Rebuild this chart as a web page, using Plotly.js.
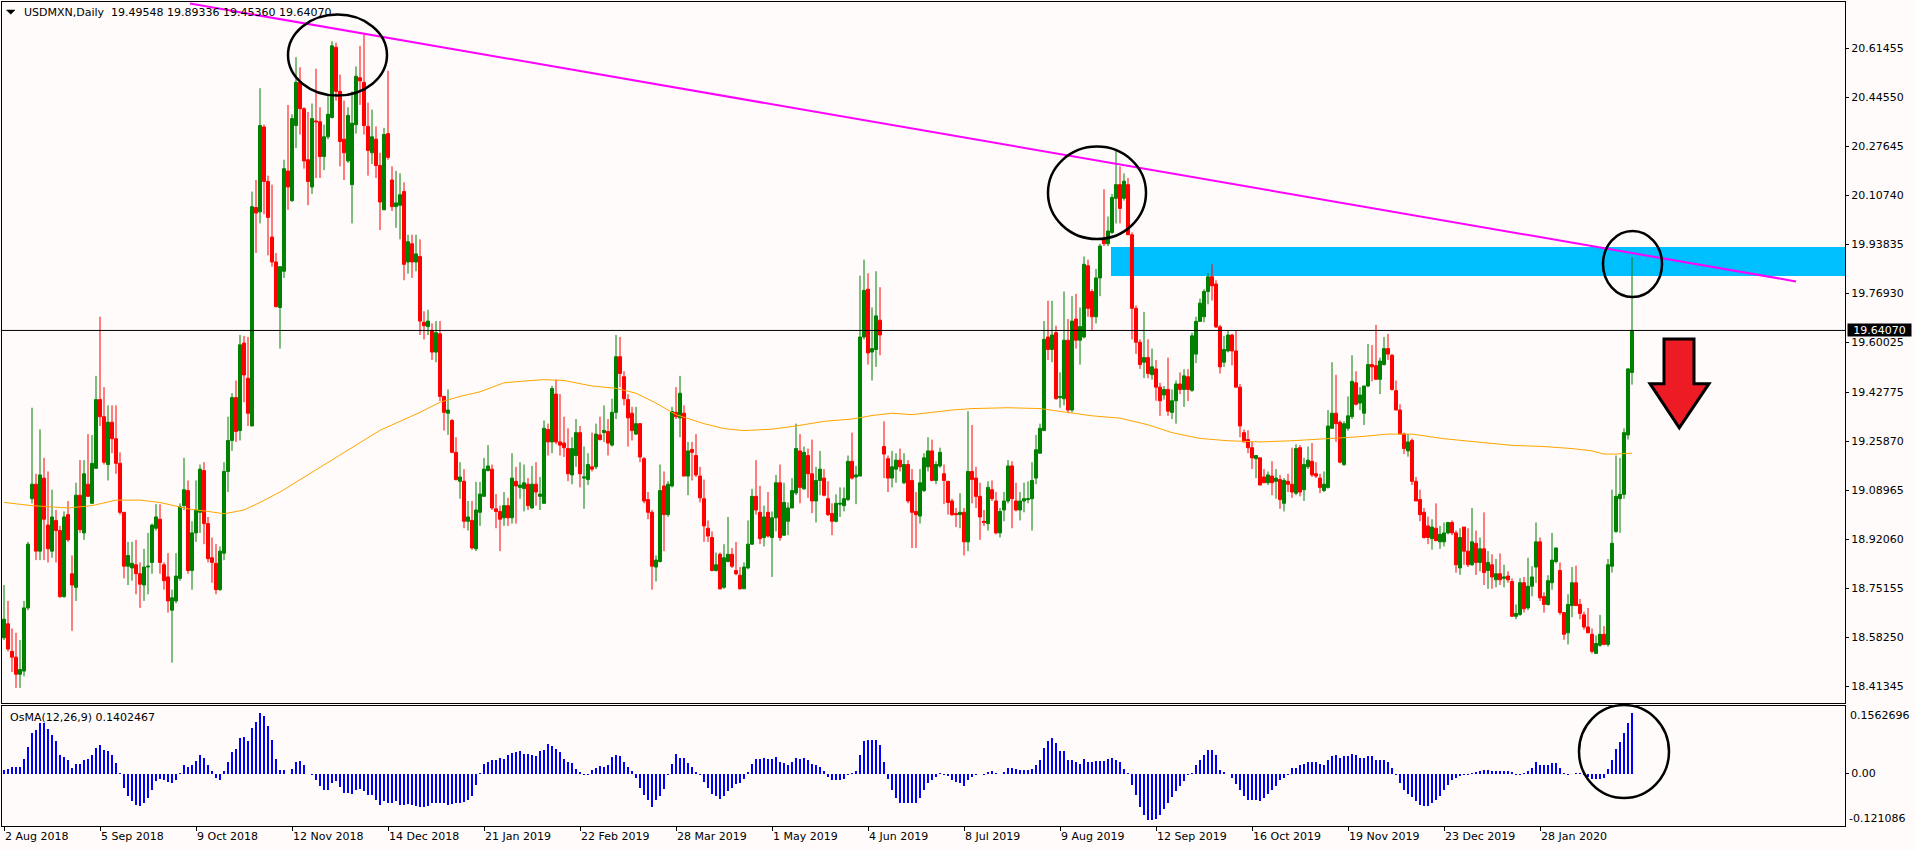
<!DOCTYPE html>
<html>
<head>
<meta charset="utf-8">
<script src="https://cdn.plot.ly/plotly-3.0.1.min.js"></script>
<style>
html,body{margin:0;padding:0;background:#FFFBFA;}
#chart{width:1916px;height:850px;}
</style>
</head>
<body>
<div id="chart"></div>
<script>
// ---------- DATA ----------
const symbol = "USDMXN,Daily";
const lastBar = {open: 19.49548, high: 19.89336, low: 19.45360, close: 19.64070};
const osmaLabel = "OsMA(12,26,9) 0.1402467";

const dateLabels = ["2 Aug 2018","5 Sep 2018","9 Oct 2018","12 Nov 2018","14 Dec 2018","21 Jan 2019",
  "22 Feb 2019","28 Mar 2019","1 May 2019","4 Jun 2019","8 Jul 2019","9 Aug 2019","12 Sep 2019",
  "16 Oct 2019","19 Nov 2019","23 Dec 2019","28 Jan 2020"];
const barsPerDateLabel = 24;

const priceTicks = [20.61455,20.44550,20.27645,20.10740,19.93835,19.76930,19.60025,19.42775,19.25870,19.08965,18.92060,18.75155,18.58250,18.41345];
const osmaMax = 0.1562696, osmaMin = -0.121086;

const openP = [
18.580,18.628,18.533,18.513,18.454,18.465,18.683,19.060,19.110,18.879,
19.131,18.969,18.879,18.985,18.950,18.722,19.005,18.801,18.754,19.072,
18.942,19.110,19.044,19.165,19.402,19.343,19.178,19.324,19.267,19.182,
19.013,18.827,18.821,18.832,18.801,18.762,18.824,18.840,18.958,18.989,
18.832,18.790,18.675,18.707,18.785,19.036,19.088,18.812,18.942,19.013,
19.157,18.974,18.856,18.837,18.746,18.872,19.154,19.261,19.409,19.295,
19.597,19.476,19.311,20.065,20.050,20.343,20.155,19.963,19.877,19.720,
19.845,20.191,20.089,20.348,20.497,20.406,20.230,20.136,20.364,20.361,
20.241,20.309,20.376,20.618,20.466,20.301,20.226,20.144,20.351,20.513,
20.497,20.345,20.254,20.301,20.210,20.057,20.320,20.160,20.068,20.073,
20.120,19.877,19.940,19.877,19.896,19.669,19.654,19.641,19.566,19.629,
19.413,19.355,19.330,19.220,19.120,19.120,18.982,18.985,18.887,19.013,
19.068,19.157,19.162,19.025,19.016,18.994,19.036,18.994,19.120,19.099,
19.095,19.110,19.028,19.110,19.068,19.044,19.299,19.256,19.421,19.256,
19.252,19.233,19.142,19.209,19.288,19.131,19.126,19.170,19.170,19.280,
19.288,19.292,19.245,19.358,19.550,19.481,19.402,19.355,19.283,19.319,
19.198,19.057,19.013,18.824,18.843,19.104,19.005,19.104,19.358,19.339,
19.355,19.138,19.230,19.209,19.138,19.060,18.958,18.926,18.812,18.868,
18.754,18.843,18.868,18.812,18.796,18.749,18.821,18.903,19.068,19.013,
18.926,19.013,18.926,18.994,19.115,18.934,18.982,19.028,19.080,19.225,
19.094,19.209,19.146,19.052,19.123,19.131,19.060,19.009,18.982,19.041,
19.036,19.057,19.189,19.135,19.138,19.618,19.783,19.566,19.575,19.676,
19.240,19.198,19.131,19.162,19.193,19.115,19.178,19.123,19.016,19.000,
19.088,19.170,19.225,19.123,19.173,19.146,19.120,
19.052,19.009,19.005,19.013,18.911,19.154,19.131,19.068,18.982,18.974,
19.091,19.052,18.942,19.021,19.052,19.173,19.052,19.021,19.052,19.057,
19.060,19.131,19.217,19.295,19.618,19.575,19.633,19.409,19.405,19.607,
19.366,19.680,19.607,19.618,19.864,19.775,19.688,19.822,19.959,19.940,
19.979,20.097,20.144,20.097,20.144,19.971,19.717,19.600,
19.531,19.547,19.488,19.508,19.445,19.418,19.437,19.358,19.398,19.456,
19.437,19.481,19.434,19.559,19.672,19.688,19.775,19.826,19.801,19.653,
19.531,19.570,19.625,19.570,19.445,19.288,19.264,19.236,19.198,19.201,
19.135,19.115,19.138,19.120,19.126,19.044,19.120,19.110,19.079,19.236,
19.091,19.170,19.189,19.146,19.131,19.088,19.099,19.303,19.355,19.324,
19.178,19.303,19.343,19.460,19.390,19.355,19.449,19.523,19.519,19.472,
19.523,19.578,19.555,19.433,19.366,19.283,19.225,19.261,
19.120,19.057,19.013,18.966,18.922,18.958,18.911,18.911,18.942,18.978,
18.942,18.821,18.962,18.879,18.832,18.906,18.840,18.887,18.812,18.832,
18.780,18.801,18.785,18.793,18.774,18.654,18.660,18.770,18.683,18.758,
18.824,18.911,18.722,18.695,18.770,18.843,18.812,18.667,18.597,18.691,
18.770,18.695,18.659,18.617,18.592,18.526,18.554,18.592,18.557,18.827,
18.947,19.060,19.075,19.280,19.49548];

const highP = [
18.762,18.707,18.612,18.597,18.572,18.707,18.911,19.374,19.146,19.299,
19.201,19.154,19.091,19.021,18.966,19.016,19.052,18.864,19.115,19.193,
19.193,19.283,19.280,19.484,19.688,19.445,19.382,19.382,19.382,19.220,
19.013,18.911,18.911,18.918,18.840,18.887,18.942,18.974,19.041,19.041,
18.840,18.872,18.746,18.872,19.044,19.201,19.123,18.982,19.123,19.178,
19.186,18.997,18.926,18.903,18.895,19.186,19.343,19.424,19.468,19.625,
19.622,19.618,20.120,20.160,20.477,20.351,20.175,20.144,19.908,19.861,
20.230,20.419,20.387,20.584,20.549,20.411,20.395,20.424,20.544,20.411,
20.351,20.450,20.639,20.634,20.524,20.434,20.411,20.466,20.552,20.623,
20.662,20.427,20.403,20.345,20.254,20.340,20.537,20.207,20.191,20.183,
20.152,19.971,19.971,19.971,19.955,19.707,19.712,19.665,19.673,19.673,
19.413,19.437,19.335,19.272,19.186,19.162,19.052,19.052,19.118,19.118,
19.201,19.245,19.178,19.076,19.036,19.083,19.063,19.217,19.170,19.186,
19.178,19.131,19.173,19.186,19.135,19.330,19.319,19.449,19.471,19.421,
19.343,19.303,19.272,19.335,19.311,19.240,19.217,19.288,19.319,19.343,
19.382,19.335,19.405,19.625,19.618,19.500,19.421,19.377,19.377,19.319,
19.204,19.083,19.021,18.864,19.178,19.154,19.120,19.377,19.445,19.484,
19.382,19.256,19.256,19.283,19.170,19.126,18.985,18.947,18.874,18.874,
18.903,18.997,18.890,18.911,18.824,18.840,18.985,19.094,19.193,19.104,
19.036,19.083,19.016,19.142,19.178,19.115,19.047,19.131,19.319,19.283,
19.240,19.233,19.264,19.170,19.225,19.162,19.120,19.044,19.075,19.099,
19.099,19.209,19.288,19.173,19.830,19.885,19.838,19.720,19.845,19.790,
19.327,19.209,19.225,19.217,19.233,19.217,19.193,19.162,19.083,19.162,
19.217,19.272,19.264,19.189,19.236,19.178,19.120,
19.060,19.028,19.079,19.028,19.362,19.314,19.170,19.115,19.021,19.120,
19.123,19.083,19.028,19.083,19.193,19.189,19.115,19.083,19.115,19.120,
19.186,19.280,19.319,19.673,19.743,19.743,19.657,19.496,19.775,19.680,
19.759,19.767,19.720,19.896,19.885,19.783,19.853,19.940,20.128,20.034,
20.112,20.262,20.207,20.183,20.167,19.979,19.727,19.610,
19.704,19.610,19.578,19.539,19.460,19.449,19.547,19.437,19.468,19.496,
19.507,19.507,19.633,19.688,19.751,19.783,19.838,19.869,19.814,19.660,
19.622,19.641,19.629,19.641,19.456,19.299,19.296,19.256,19.209,19.201,
19.162,19.154,19.189,19.162,19.142,19.131,19.146,19.236,19.248,19.245,
19.201,19.240,19.252,19.186,19.146,19.154,19.366,19.531,19.488,19.330,
19.327,19.413,19.555,19.500,19.445,19.449,19.594,19.590,19.660,19.547,
19.618,19.629,19.559,19.468,19.386,19.288,19.283,19.268,
19.135,19.091,19.028,18.998,18.989,19.044,18.966,18.978,18.978,18.985,
18.950,18.958,18.962,18.958,19.028,18.950,18.926,19.013,18.879,18.868,
18.852,18.871,18.832,18.809,18.785,18.695,18.785,18.790,18.856,18.827,
18.978,18.926,18.737,18.796,18.942,18.890,18.840,18.667,18.730,18.824,
18.829,18.714,18.670,18.683,18.612,18.588,18.659,18.620,18.852,19.091,
19.209,19.201,19.303,19.511,19.89336];

const lowP = [
18.572,18.533,18.462,18.407,18.407,18.447,18.675,19.044,18.848,18.848,
18.848,18.840,18.856,18.840,18.718,18.718,18.911,18.604,18.707,18.942,
18.918,19.068,19.044,19.162,19.311,19.178,19.123,19.217,19.146,19.005,
18.785,18.762,18.777,18.730,18.683,18.707,18.730,18.801,18.950,18.801,
18.746,18.667,18.494,18.699,18.777,19.021,18.801,18.746,18.911,18.942,
18.903,18.840,18.770,18.730,18.742,18.848,19.083,19.225,19.256,19.261,
19.393,19.311,19.311,19.908,20.010,20.042,19.900,19.861,19.720,19.578,
19.822,20.057,20.084,20.270,20.317,20.199,20.073,20.112,20.167,20.167,
20.194,20.301,20.372,20.434,20.207,20.160,20.219,20.010,20.320,20.419,
20.317,20.175,20.215,20.167,19.987,20.057,20.230,20.053,19.995,19.955,
19.814,19.837,19.822,19.845,19.625,19.610,19.625,19.539,19.531,19.397,
19.295,19.280,19.217,19.123,19.060,18.958,18.950,18.884,18.879,18.966,
19.068,19.154,19.021,18.958,18.879,18.966,18.966,18.974,18.974,19.060,
19.016,19.021,19.025,19.036,19.021,19.044,19.209,19.217,19.248,19.209,
19.204,19.120,19.110,19.170,19.099,19.025,19.107,19.154,19.162,19.261,
19.256,19.209,19.240,19.335,19.445,19.382,19.240,19.261,19.280,19.186,
19.044,18.989,18.746,18.774,18.840,18.879,18.997,19.099,19.335,19.272,
19.138,19.072,19.123,19.135,19.047,18.911,18.911,18.809,18.809,18.746,
18.749,18.840,18.821,18.796,18.746,18.749,18.816,18.900,19.005,18.903,
18.895,18.926,18.790,18.947,18.915,18.931,18.934,19.028,19.072,19.044,
19.091,19.063,19.010,18.978,19.072,19.068,19.000,18.934,18.978,18.997,
19.016,19.052,19.126,19.041,19.138,19.610,19.523,19.468,19.515,19.555,
19.131,19.083,19.099,19.115,19.154,19.110,19.044,18.890,18.890,18.974,
19.083,19.154,19.120,19.110,19.167,19.041,19.005,
19.000,18.962,18.958,18.864,18.879,19.044,19.028,18.918,18.966,18.950,
19.052,18.937,18.926,18.982,19.044,18.958,19.016,18.985,19.013,19.044,
18.950,19.110,19.217,19.295,19.539,19.531,19.402,19.374,19.382,19.355,
19.358,19.578,19.523,19.613,19.688,19.641,19.665,19.759,19.932,19.932,
19.974,20.010,20.010,20.089,19.971,19.610,19.560,19.508,
19.476,19.476,19.471,19.398,19.346,19.402,19.346,19.335,19.319,19.421,
19.377,19.397,19.429,19.528,19.672,19.669,19.731,19.744,19.649,19.492,
19.515,19.565,19.520,19.445,19.272,19.256,19.217,19.162,19.131,19.107,
19.115,19.107,19.072,19.060,19.025,19.016,19.083,19.063,19.072,19.068,
19.052,19.162,19.135,19.131,19.079,19.083,19.095,19.303,19.256,19.182,
19.173,19.295,19.335,19.382,19.366,19.314,19.445,19.465,19.472,19.421,
19.519,19.539,19.433,19.366,19.283,19.214,19.205,19.107,
19.052,18.982,18.922,18.903,18.884,18.915,18.887,18.895,18.937,18.934,
18.805,18.797,18.832,18.824,18.828,18.797,18.809,18.762,18.749,18.749,
18.754,18.762,18.754,18.770,18.654,18.644,18.656,18.667,18.675,18.723,
18.770,18.707,18.667,18.691,18.746,18.837,18.659,18.573,18.557,18.651,
18.691,18.644,18.608,18.597,18.526,18.525,18.549,18.554,18.549,18.805,
18.942,18.942,19.060,19.264,19.45360];

const closeP = [
18.644,18.541,18.513,18.454,18.470,18.683,18.903,19.110,18.879,19.142,
18.989,18.887,18.997,18.950,18.722,18.997,18.918,18.762,19.072,18.953,
19.146,19.068,19.182,19.402,19.343,19.186,19.324,19.267,19.182,19.013,
18.827,18.864,18.837,18.801,18.765,18.824,18.827,18.969,18.997,18.840,
18.777,18.707,18.718,18.793,19.032,19.091,18.812,18.942,19.021,19.162,
18.974,18.853,18.840,18.746,18.879,19.154,19.261,19.409,19.292,19.591,
19.487,19.355,20.068,20.046,20.348,20.155,20.031,19.877,19.723,19.861,
20.199,20.136,20.372,20.497,20.406,20.226,20.155,20.372,20.361,20.241,
20.309,20.387,20.623,20.466,20.293,20.254,20.383,20.356,20.518,20.502,
20.348,20.262,20.309,20.210,20.084,20.317,20.238,20.068,20.081,20.109,
19.869,19.947,19.877,19.905,19.673,19.657,19.673,19.566,19.633,19.413,
19.358,19.366,19.220,19.126,19.135,18.982,18.997,18.890,19.021,19.076,
19.162,19.173,19.028,19.016,18.989,19.036,18.994,19.131,19.104,19.107,
19.115,19.036,19.110,19.083,19.076,19.303,19.256,19.440,19.256,19.245,
19.236,19.146,19.233,19.288,19.146,19.135,19.178,19.162,19.283,19.264,
19.296,19.252,19.358,19.550,19.492,19.405,19.339,19.295,19.319,19.204,
19.052,19.013,18.827,18.848,19.088,19.005,19.110,19.361,19.343,19.424,
19.138,19.225,19.220,19.142,19.063,18.966,18.931,18.812,18.832,18.749,
18.856,18.868,18.827,18.801,18.749,18.824,18.903,19.068,19.021,18.922,
18.997,18.931,18.994,19.115,18.926,19.047,19.028,19.088,19.233,19.099,
19.220,19.146,19.052,19.123,19.162,19.072,19.005,18.982,19.044,19.044,
19.060,19.189,19.131,19.142,19.618,19.779,19.563,19.578,19.691,19.625,
19.214,19.131,19.170,19.193,19.170,19.178,19.052,19.013,19.005,19.115,
19.201,19.225,19.123,19.178,19.220,19.123,19.047,
19.005,19.005,19.013,18.911,19.154,19.126,19.068,18.997,18.978,19.099,
19.060,18.942,19.016,19.052,19.173,19.060,19.021,19.052,19.060,19.060,
19.123,19.229,19.303,19.610,19.575,19.625,19.405,19.413,19.607,19.366,
19.673,19.607,19.654,19.869,19.717,19.688,19.822,19.932,19.940,19.984,
20.100,20.144,20.062,20.156,19.971,19.717,19.600,19.523,
19.547,19.492,19.515,19.445,19.398,19.437,19.362,19.398,19.456,19.437,
19.484,19.437,19.622,19.672,19.735,19.775,19.826,19.795,19.653,19.515,
19.575,19.625,19.570,19.445,19.311,19.256,19.236,19.201,19.209,19.107,
19.115,19.142,19.115,19.131,19.057,19.123,19.110,19.083,19.233,19.083,
19.178,19.193,19.142,19.138,19.099,19.110,19.311,19.355,19.319,19.186,
19.319,19.346,19.465,19.386,19.418,19.449,19.523,19.515,19.472,19.535,
19.578,19.559,19.437,19.366,19.283,19.233,19.256,19.120,
19.052,19.005,18.926,18.926,18.962,18.915,18.937,18.942,18.978,18.942,
18.832,18.926,18.879,18.832,18.911,18.840,18.887,18.805,18.840,18.790,
18.801,18.780,18.790,18.780,18.654,18.664,18.770,18.680,18.758,18.790,
18.911,18.718,18.695,18.777,18.848,18.890,18.667,18.592,18.695,18.770,
18.691,18.664,18.617,18.597,18.533,18.560,18.592,18.557,18.832,18.906,
19.068,19.075,19.288,19.508,19.64070];

// Moving average (orange) read at sample bars
const maBar = [0,7,16,22,28,34,39,46,51,55,60,64,69,74,79,84,89,94,99,104,109,114,119,122,125,129,135,140,147,153,
  158,163,168,175,180,185,192,198,205,212,217,222,227,232,237,242,251,259,266,272,279,286,292,299,306,314,322,331,339,346,
  352,360,368,377,385,392,397,400,403,407];
const maValue = [19.047,19.036,19.028,19.036,19.055,19.055,19.047,19.025,19.016,19.008,19.021,19.047,19.083,19.126,19.170,
  19.212,19.256,19.296,19.327,19.358,19.393,19.413,19.429,19.445,19.460,19.465,19.471,19.468,19.449,19.441,
  19.424,19.390,19.350,19.319,19.302,19.295,19.300,19.311,19.327,19.335,19.347,19.355,19.350,19.358,19.366,
  19.371,19.374,19.371,19.358,19.346,19.338,19.315,19.288,19.268,19.260,19.256,19.260,19.267,19.274,19.283,
  19.283,19.267,19.256,19.244,19.240,19.233,19.225,19.214,19.214,19.217];

// OsMA(12,26,9) histogram
const osma = [
0.009,0.011,0.015,0.015,0.015,0.034,0.061,0.094,0.100,0.117,
0.116,0.103,0.090,0.075,0.044,0.038,0.032,0.013,0.023,0.023,
0.031,0.034,0.044,0.060,0.067,0.055,0.053,0.044,0.025,0.002,
-0.034,-0.052,-0.064,-0.072,-0.076,-0.067,-0.057,-0.037,-0.018,-0.012,
-0.014,-0.020,-0.021,-0.014,0.002,0.019,0.015,0.020,0.030,0.044,
0.036,0.019,0.005,-0.010,-0.014,0.005,0.028,0.049,0.057,0.083,
0.084,0.075,0.106,0.119,0.140,0.134,0.111,0.077,0.034,0.009,
0.008,-0.001,0.011,0.028,0.030,0.019,-0.001,-0.004,-0.014,-0.029,
-0.038,-0.037,-0.021,-0.018,-0.031,-0.044,-0.044,-0.047,-0.037,-0.036,
-0.041,-0.049,-0.049,-0.060,-0.073,-0.064,-0.067,-0.067,-0.064,-0.072,
-0.072,-0.070,-0.072,-0.074,-0.077,-0.077,-0.075,-0.067,-0.067,-0.069,
-0.067,-0.072,-0.070,-0.069,-0.067,-0.066,-0.061,-0.051,-0.026,0.002,
0.023,0.028,0.032,0.032,0.036,0.034,0.042,0.048,0.049,0.052,
0.046,0.046,0.044,0.040,0.052,0.055,0.069,0.063,0.057,0.049,
0.034,0.026,0.025,0.011,0.003,-0.003,-0.004,0.009,0.013,0.017,
0.015,0.020,0.038,0.044,0.040,0.028,0.015,0.005,-0.010,-0.033,
-0.049,-0.060,-0.077,-0.060,-0.052,-0.035,-0.003,0.023,0.046,0.036,
0.036,0.025,0.015,
0.003,-0.003,-0.020,-0.034,-0.046,-0.052,-0.059,-0.052,-0.041,-0.033,
-0.024,-0.021,-0.012,0.003,0.023,0.034,0.034,0.037,0.034,0.034,
0.038,0.028,0.025,0.020,0.028,0.035,0.034,0.036,0.031,0.023,
0.019,0.015,0.007,-0.008,-0.015,-0.015,-0.015,-0.012,-0.003,0.002,
0.007,0.042,0.075,0.078,0.078,0.078,0.067,0.028,-0.012,-0.038,
-0.056,-0.067,-0.069,-0.069,-0.069,-0.067,-0.056,-0.037,-0.021,-0.015,
-0.008,0.002,-0.003,-0.006,-0.014,-0.020,-0.021,-0.029,-0.015,-0.008,
-0.003,-0.002,-0.003,0.003,0.005,0.001,-0.001,0.003,0.013,0.013,
0.011,0.009,0.009,0.009,0.011,0.020,0.032,0.060,0.075,0.083,
0.071,0.053,0.052,0.031,0.032,0.026,0.023,0.034,0.026,0.026,
0.030,0.030,0.030,0.034,0.036,0.032,0.028,0.011,0.002,-0.026,
-0.049,-0.077,-0.095,-0.107,-0.107,-0.105,-0.095,-0.082,-0.067,-0.054,
-0.041,-0.029,-0.018,-0.004,0.002,0.019,0.031,0.042,0.054,0.055,
0.044,0.009,0.003,-0.001,-0.010,-0.023,-0.038,-0.052,-0.061,-0.061,
-0.061,-0.064,-0.056,-0.046,-0.037,-0.029,-0.015,-0.010,-0.003,0.013,
0.013,0.020,
0.023,0.026,0.026,0.026,0.023,0.019,0.031,0.040,0.044,0.036,
0.040,0.040,0.046,0.044,0.036,0.036,0.040,0.040,0.032,0.031,
0.031,0.028,0.013,-0.003,-0.021,-0.037,-0.046,-0.054,-0.064,-0.072,
-0.076,-0.076,-0.067,-0.060,-0.051,-0.037,-0.026,-0.015,-0.010,-0.006,
-0.003,-0.003,0.002,0.003,0.005,0.008,0.008,0.005,0.005,0.005,
0.005,0.006,0.003,-0.004,-0.003,0.002,0.006,0.013,0.026,0.020,
0.019,0.020,0.025,0.025,0.013,0.002,-0.003,-0.001,0.002,0.002,
-0.003,-0.008,-0.012,-0.012,-0.012,-0.010,0.011,0.032,0.057,0.073,
0.094,0.117,0.1402467];

// Trend line drawn on the chart: [bar, price] endpoints
const trendStart = [46.5, 20.769], trendEnd = [448, 19.81];
// Resistance zone (blue box)
const zoneStartBar = 276.75, zoneTop = 19.929, zoneBottom = 19.829;

// ---------- LAYOUT HELPERS ----------
const W = 1916, H = 850;
const plotL = 2, plotR = 1845, plotT = 2, plotB = 826;
const mainBottomPx = 703, osmaTopPx = 706;
const px2x = p => (p - plotL) / (plotR - plotL);
const py2y = p => (plotB - p) / (plotB - plotT);

const barIdx = closeP.map((_, i) => i);
const osmaIdx = osma.map((_, i) => i);
const FONT = "DejaVu Sans, Verdana, sans-serif";

const candles = {
  type: "candlestick", x: barIdx, open: openP, high: highP, low: lowP, close: closeP,
  xaxis: "x", yaxis: "y",
  increasing: {line: {color: "#008000", width: 1}, fillcolor: "#008000"},
  decreasing: {line: {color: "#FF0000", width: 1}, fillcolor: "#FF0000"},
  whiskerwidth: 0, hoverinfo: "skip", showlegend: false
};
const ma = {
  type: "scatter", mode: "lines", x: maBar, y: maValue, xaxis: "x", yaxis: "y",
  line: {color: "#FFA500", width: 1}, hoverinfo: "skip", showlegend: false
};
const osmaBars = {
  type: "bar", x: osmaIdx, y: osma, xaxis: "x2", yaxis: "y2",
  marker: {color: "#0000FF", line: {width: 0}}, width: 0.74,
  hoverinfo: "skip", showlegend: false
};

const xRange = [-0.5, 460.25];
const shapes = [
  {type: "rect", xref: "x", yref: "y", x0: zoneStartBar, x1: xRange[1], y0: zoneBottom, y1: zoneTop,
   fillcolor: "#00BFFF", line: {width: 0}, layer: "below"},
  {type: "line", xref: "paper", yref: "y", x0: 0, x1: 1, y0: lastBar.close, y1: lastBar.close,
   line: {color: "#000000", width: 1}},
  {type: "line", xref: "x", yref: "y", x0: trendStart[0], y0: trendStart[1], x1: trendEnd[0], y1: trendEnd[1],
   line: {color: "#FF00FF", width: 2}},
  {type: "circle", xref: "paper", yref: "paper", x0: px2x(288), x1: px2x(387), y0: py2y(95.6), y1: py2y(14.6),
   line: {color: "#000000", width: 2.5}},
  {type: "circle", xref: "paper", yref: "paper", x0: px2x(1048), x1: px2x(1146), y0: py2y(239), y1: py2y(146.6),
   line: {color: "#000000", width: 2.5}},
  {type: "circle", xref: "paper", yref: "paper", x0: px2x(1603), x1: px2x(1662), y0: py2y(297), y1: py2y(231),
   line: {color: "#000000", width: 2.5}},
  {type: "circle", xref: "paper", yref: "paper", x0: px2x(1579), x1: px2x(1669), y0: py2y(798), y1: py2y(705),
   line: {color: "#000000", width: 2.5}},
  {type: "path", xref: "paper", yref: "paper",
   path: "M " + [[1664,339],[1694,339],[1694,383.7],[1709,383.7],[1679.3,427.9],[1650,383.7],[1664,383.7]]
          .map(p => px2x(p[0]) + " " + py2y(p[1])).join(" L ") + " Z",
   fillcolor: "#ED1C24", line: {color: "#000000", width: 3}},
  {type: "path", xref: "paper", yref: "paper",
   path: "M " + [[6.5,10],[15,10],[10.75,14.3]].map(p => px2x(p[0]) + " " + py2y(p[1])).join(" L ") + " Z",
   fillcolor: "#000000", line: {color: "#000000", width: 0.5}}
];

const annotations = [
  {xref: "paper", yref: "paper", x: px2x(21.5), y: py2y(12.7), xanchor: "left", yanchor: "middle", showarrow: false,
   text: symbol + "\u00a0\u00a0" + [lastBar.open.toFixed(5), lastBar.high.toFixed(5), lastBar.low.toFixed(5), lastBar.close.toFixed(5)].join(" "),
   font: {family: FONT, size: 11, color: "#000000"}},
  {xref: "paper", yref: "paper", x: px2x(7.5), y: py2y(717.3), xanchor: "left", yanchor: "middle", showarrow: false,
   text: osmaLabel, font: {family: FONT, size: 11, color: "#000000"}},
  {xref: "paper", yref: "y", x: px2x(1846.7), y: lastBar.close, xanchor: "left", yanchor: "middle", showarrow: false,
   text: lastBar.close.toFixed(5), bgcolor: "#000000", width: 63, height: 12, borderpad: 0,
   font: {family: FONT, size: 11, color: "#FFFFFF"}},
  {xref: "paper", yref: "paper", x: px2x(1848), y: py2y(715.5), xanchor: "left", yanchor: "middle", showarrow: false,
   text: String(osmaMax), font: {family: FONT, size: 11, color: "#000000"}},
  {xref: "paper", yref: "paper", x: px2x(1847), y: py2y(818.3), xanchor: "left", yanchor: "middle", showarrow: false,
   text: String(osmaMin), font: {family: FONT, size: 11, color: "#000000"}}
];

const axisCommon = {showgrid: false, zeroline: false, showline: true, linecolor: "#000000", linewidth: 1,
  mirror: true, fixedrange: true, tickfont: {family: FONT, size: 11, color: "#000000"}, tickcolor: "#000000"};

const layout = {
  width: W, height: H,
  margin: {l: plotL, r: W - plotR, t: plotT, b: H - plotB, pad: 0},
  paper_bgcolor: "#FFFBFA", plot_bgcolor: "#FFFBFA",
  showlegend: false, hovermode: false, bargap: 0,
  boxgap: 0.15, boxgroupgap: 0.1,
  xaxis: Object.assign({}, axisCommon, {anchor: "y", range: xRange, showticklabels: false, ticks: "",
    rangeslider: {visible: false}}),
  xaxis2: Object.assign({}, axisCommon, {anchor: "y2", range: xRange, matches: "x",
    tickmode: "array", tickvals: dateLabels.map((_, k) => k * barsPerDateLabel), ticktext: dateLabels,
    ticks: "outside", ticklen: 4, ticklabelposition: "outside right"}),
  yaxis: Object.assign({}, axisCommon, {anchor: "x", side: "right", domain: [py2y(mainBottomPx), 1],
    range: [18.3548, 20.7744], tickmode: "array", tickvals: priceTicks, ticktext: priceTicks.map(v => v.toFixed(5)),
    ticks: "outside", ticklen: 3}),
  yaxis2: Object.assign({}, axisCommon, {anchor: "x2", side: "right", domain: [0, py2y(osmaTopPx)],
    range: [osmaMin, osmaMax], tickmode: "array", tickvals: [0], ticktext: ["0.00"], ticks: "outside", ticklen: 3}),
  shapes: shapes, annotations: annotations
};

Plotly.newPlot("chart", [osmaBars, candles, ma], layout, {staticPlot: true, displayModeBar: false});
</script>
</body>
</html>
